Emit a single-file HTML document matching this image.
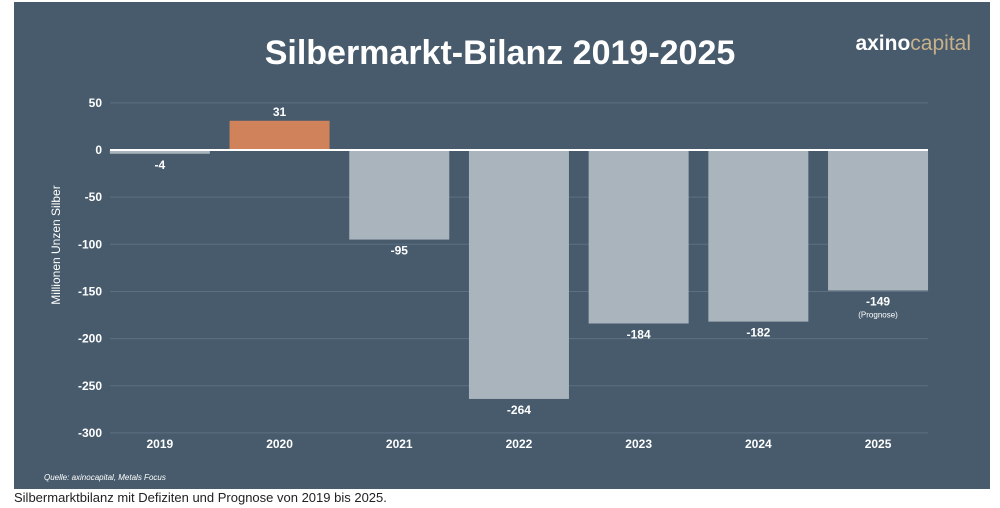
<!DOCTYPE html>
<html><head><meta charset="utf-8"><style>
body{margin:0;width:1000px;height:508px;background:#fff;overflow:hidden;font-family:"Liberation Sans",sans-serif}
#panel{position:absolute;left:14px;top:2px;width:976px;height:487px;background:#475b6c}
#cap{position:absolute;left:14px;top:490px;font-size:13px;color:#222}
</style></head><body>
<div id="panel"></div>
<svg width="1000" height="508" style="position:absolute;left:0;top:0" id="chart">
<text x="500" y="64" text-anchor="middle" font-size="34" font-weight="bold" fill="#fff">Silbermarkt-Bilanz 2019-2025</text>
<g><text x="971" y="50" text-anchor="end" font-size="21"><tspan fill="#fff" font-weight="bold">axino</tspan><tspan fill="#c8b08a">capital</tspan></text></g>
<text transform="translate(60,245) rotate(-90)" text-anchor="middle" font-size="12" fill="#fff">Millionen Unzen Silber</text>
<text x="44" y="480" font-size="8" font-style="italic" fill="#fff">Quelle: axinocapital, Metals Focus</text>
<g id="grid"></g><g id="bars"></g><g id="labels"></g>
</svg>
<div id="cap">Silbermarktbilanz mit Defiziten und Prognose von 2019 bis 2025.</div>
<script>
const categories=["2019","2020","2021","2022","2023","2024","2025"];
const values=[-4,31,-95,-264,-184,-182,-149];
const ticks=[50,0,-50,-100,-150,-200,-250,-300];
const NS="http://www.w3.org/2000/svg";
const y=v=>150-v*0.943;
const x0=100,bw=119.7;
const xc=i=>x0+bw*i+bw/2;
function mk(t,a,p){const e=document.createElementNS(NS,t);for(const k in a)e.setAttribute(k,a[k]);p.appendChild(e);return e;}
const grid=document.getElementById('grid'),bars=document.getElementById('bars'),labels=document.getElementById('labels');
ticks.forEach(t=>{
  if(t!==0){const l=mk('line',{x1:110,x2:928,y1:y(t),y2:y(t),stroke:'#5d7081','stroke-width':1},grid);
  
  }
  const tx=mk('text',{x:102,y:y(t)+4,'text-anchor':'end','font-size':12,'font-weight':'bold',fill:'#fff'},grid);
  tx.textContent=t;
  
  
});
values.forEach((v,i)=>{
  const top=Math.min(y(v),y(0)),h=Math.abs(y(v)-y(0));
  const r=mk('rect',{x:xc(i)-50,y:top,width:100,height:Math.max(h,1),fill:v>0?'#d0835a':'#aab4bc'},bars);
  
  
  const ly=v>0?y(v)-5:y(v)+15;
  const t=mk('text',{x:xc(i),y:ly,'text-anchor':'middle','font-size':12,'font-weight':'bold',fill:'#fff'},labels);
  t.textContent=v;
  
  
  const c=mk('text',{x:xc(i),y:448,'text-anchor':'middle','font-size':12,'font-weight':'bold',fill:'#fff'},labels);
  c.textContent=categories[i];
  
  
});
const p=mk('text',{x:xc(6),y:y(values[6])+27,'text-anchor':'middle','font-size':8,fill:'#fff'},labels);
p.textContent='(Prognose)';


const z=mk('line',{x1:110,x2:928,y1:y(0),y2:y(0),stroke:'#fff','stroke-width':2},labels);


</script>
</body></html>
